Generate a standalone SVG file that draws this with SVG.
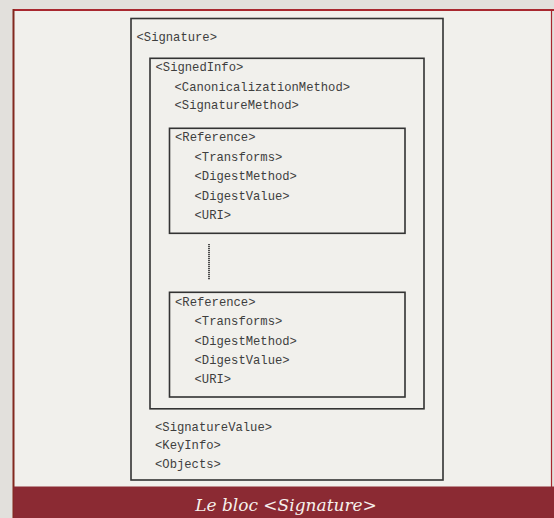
<svg xmlns="http://www.w3.org/2000/svg" width="554" height="518" viewBox="0 0 554 518">
  <style>
    .box { fill: none; stroke: #333333; stroke-width: 1.6; }
    .code { font-family: "Liberation Mono", "Courier New", monospace; font-size: 12.2px; fill: #3e3e3e; }
    .caption { font-family: "DejaVu Serif", "Liberation Serif", serif; font-style: italic; font-size: 17px; fill: #f6f0ec; }
  </style>

  <!-- paper and framed panel -->
  <rect x="0" y="0" width="554" height="518" fill="#e2e0dc"/>
  <rect x="13.5" y="10" width="538" height="508" fill="#f1f0ec"/>
  <line x1="13.5" y1="10" x2="554" y2="10" stroke="#a8282f" stroke-width="2"/>
  <line x1="13.5" y1="9" x2="13.5" y2="518" stroke="#82291f" stroke-width="2"/>
  <line x1="551.5" y1="9" x2="551.5" y2="518" stroke="#a8282f" stroke-width="1.2"/>

  <g id="signature">
    <rect class="box" x="131" y="18.5" width="312" height="461.5"/>
    <text class="code" x="136.5" y="40.5">&lt;Signature&gt;</text>
    <text class="code" x="155" y="430.5">&lt;SignatureValue&gt;</text>
    <text class="code" x="155" y="449">&lt;KeyInfo&gt;</text>
    <text class="code" x="155" y="467.5">&lt;Objects&gt;</text>
  </g>

  <g id="signedinfo">
    <rect class="box" x="150" y="58.3" width="274" height="350.5"/>
    <text class="code" x="155.5" y="71">&lt;SignedInfo&gt;</text>
    <text class="code" x="174.5" y="90.5">&lt;CanonicalizationMethod&gt;</text>
    <text class="code" x="174.5" y="109">&lt;SignatureMethod&gt;</text>
  </g>

  <g id="reference-1">
    <rect class="box" x="169.5" y="128.3" width="235.5" height="105"/>
    <text class="code" x="175" y="141">&lt;Reference&gt;</text>
    <text class="code" x="194.5" y="160.5">&lt;Transforms&gt;</text>
    <text class="code" x="194.5" y="180">&lt;DigestMethod&gt;</text>
    <text class="code" x="194.5" y="199.5">&lt;DigestValue&gt;</text>
    <text class="code" x="194.5" y="219">&lt;URI&gt;</text>
  </g>

  <g id="reference-2">
    <rect class="box" x="169.5" y="292.3" width="235.5" height="104.7"/>
    <text class="code" x="175" y="305.5">&lt;Reference&gt;</text>
    <text class="code" x="194.5" y="325">&lt;Transforms&gt;</text>
    <text class="code" x="194.5" y="344.5">&lt;DigestMethod&gt;</text>
    <text class="code" x="194.5" y="364">&lt;DigestValue&gt;</text>
    <text class="code" x="194.5" y="383">&lt;URI&gt;</text>
  </g>

  <g id="connectors">
    <line x1="209" y1="244" x2="209" y2="280" stroke="#3c3c3c" stroke-width="1.8" stroke-dasharray="1.2 0.8"/>
  </g>

  <g id="caption">
    <rect x="13.5" y="486.5" width="540.5" height="31.5" fill="#8b2a33"/>
    <text class="caption" x="286" y="511" text-anchor="middle">Le bloc &lt;Signature&gt;</text>
  </g>
</svg>
